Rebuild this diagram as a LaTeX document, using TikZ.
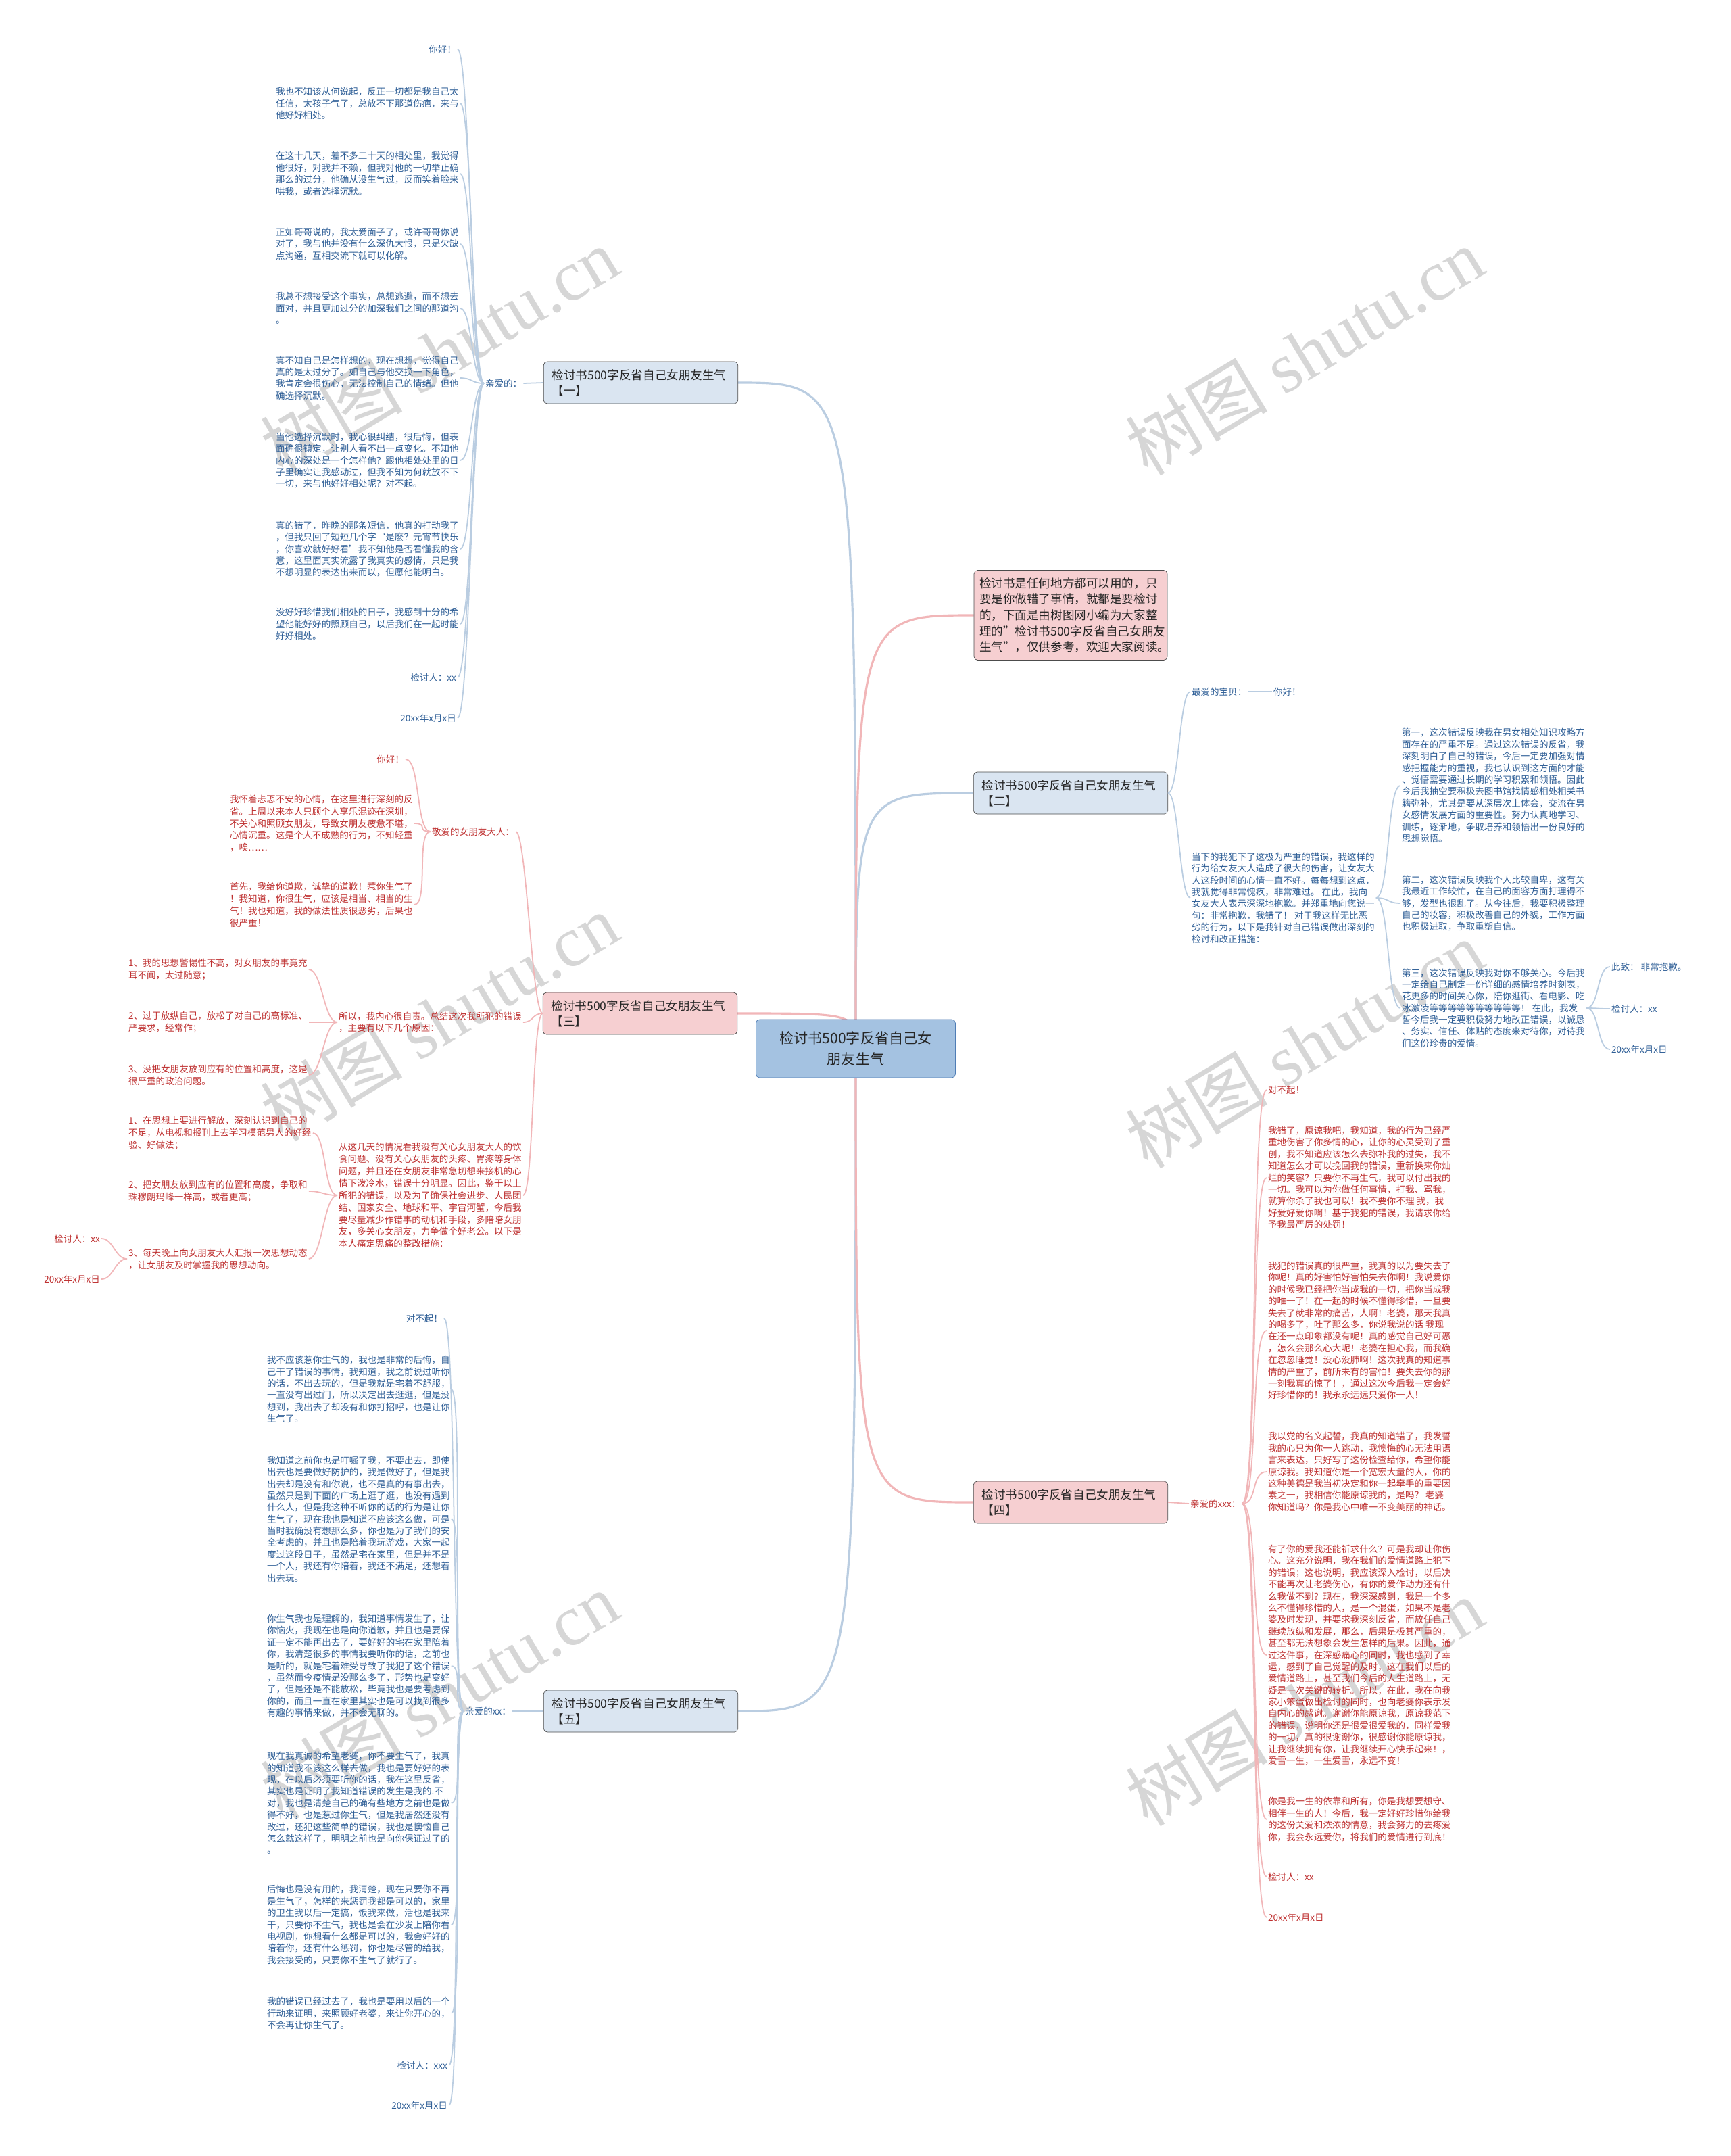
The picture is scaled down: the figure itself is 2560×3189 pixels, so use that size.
\documentclass[tikz,border=0pt]{standalone}
\usepackage{fontspec}
\setmainfont{Noto Sans CJK SC}
\newfontfamily\wmserif{Liberation Serif}
\usepackage{tikz}
\usetikzlibrary{positioning,backgrounds}
\definecolor{txtblue}{HTML}{2E5E96}
\definecolor{txtred}{HTML}{BE3030}
\definecolor{lineblue}{HTML}{BACDE1}
\definecolor{linered}{HTML}{F1B6B8}
\definecolor{fillblue}{HTML}{DAE5F1}
\definecolor{fillred}{HTML}{F6CFD1}
\definecolor{fillroot}{HTML}{A4C2E1}
\definecolor{edgeroot}{HTML}{4F7DB5}

\begin{document}
\begin{tikzpicture}[x=0.02cm,y=-0.02cm,
  root/.style={draw=edgeroot,fill=fillroot,rounded corners=3pt,align=center,
    font=\fontsize{12}{18}\selectfont,text=black!85,minimum width=5.9cm,minimum height=1.72cm},
  bbox/.style={draw=black!70,fill=fillblue,rounded corners=3pt,align=left,
    font=\fontsize{10}{13.3}\selectfont,text=black!85,text width=5.25cm,inner xsep=0.25cm,minimum height=1.24cm},
  rbox/.style={bbox,fill=fillred},
  bp/.style={font=\fontsize{7.7}{9.9}\selectfont,text=txtblue,align=left,inner sep=1pt},
  rp/.style={bp,text=txtred},
  sk3/.style={font=\fontsize{7.7}{10.2}\selectfont},
  lkb/.style={draw=lineblue,line width=1pt},
  lkr/.style={draw=linered,line width=1pt},
  rootb/.style={draw=lineblue,line width=1.8pt},
  rootr/.style={draw=linered,line width=1.8pt},
  wm/.style={text=black!16,rotate=31,font=\fontsize{60}{60}\selectfont}]
\useasboundingbox (0,0) rectangle (2560,3189);

% watermarks
\foreach \wx/\wy in {650/520,1930/520,650/1505,1930/1545,650/2508,1930/2518}
  \node[wm] at (\wx,\wy) {树图 {\wmserif shutu.cn}};

% centre and main branches
\node[root] (root) at (1266,1551) {检讨书500字反省自己女\\朋友生气};
\node[bbox] (b1) at (948,566) {检讨书500字反省自己女朋友生气\\【一】};
\node[bbox] (b2) at (1584,1173) {检讨书500字反省自己女朋友生气\\【二】};
\node[rbox] (b3) at (947,1499) {检讨书500字反省自己女朋友生气\\【三】};
\node[rbox] (b4) at (1584,2222) {检讨书500字反省自己女朋友生气\\【四】};
\node[bbox] (b5) at (948,2531) {检讨书500字反省自己女朋友生气\\【五】};
\node[rbox,text width=5.4cm,inner xsep=0.16cm,font=\fontsize{10}{13.5}\selectfont,minimum height=2.66cm] (intro) at (1584,910)
  {检讨书是任何地方都可以用的，只\\要是你做错了事情，就都是要检讨\\的，下面是由树图网小编为大家整\\理的"检讨书500字反省自己女朋友\\生气"，仅供参考，欢迎大家阅读。};

\begin{scope}[on background layer]
\draw[rootb] (root.center) .. controls (root.center |- b1.east) .. (b1.east);
\draw[rootb] (root.center) .. controls (root.center |- b2.west) .. (b2.west);
\draw[rootb] (root.center) .. controls (root.center |- b5.east) .. (b5.east);
\draw[rootr] (root.center) .. controls (root.center |- intro.west) .. (intro.west);
\draw[rootr] (root.center) .. controls (root.center |- b3.east) .. (b3.east);
\draw[rootr] (root.center) .. controls (root.center |- b4.west) .. (b4.west);
\end{scope}

% branch one
\node[bp,anchor=west] (b1l) at (716,567) {亲爱的：};
\node[bp,anchor=east] (b1c1) at (677,73) {你好！};
\node[bp,anchor=west] (b1c2) at (406,153) {我也不知该从何说起，反正一切都是我自己太\\任信，太孩子气了，总放不下那道伤疤，来与\\他好好相处。};
\node[bp,anchor=west] (b1c3) at (406,257) {在这十几天，差不多二十天的相处里，我觉得\\他很好，对我并不赖，但我对他的一切举止确\\那么的过分，他确从没生气过，反而笑着脸来\\哄我，或者选择沉默。};
\node[bp,anchor=west] (b1c4) at (406,361) {正如哥哥说的，我太爱面子了，或许哥哥你说\\对了，我与他并没有什么深仇大恨，只是欠缺\\点沟通，互相交流下就可以化解。};
\node[bp,anchor=west] (b1c5) at (406,456) {我总不想接受这个事实，总想逃避，而不想去\\面对，并且更加过分的加深我们之间的那道沟\\。};
\node[bp,anchor=west] (b1c6) at (406,559) {真不知自己是怎样想的，现在想想，觉得自己\\真的是太过分了。如自己与他交换一下角色，\\我肯定会很伤心，无法控制自己的情绪。但他\\确选择沉默。};
\node[bp,anchor=west] (b1c7) at (406,681) {当他选择沉默时，我心很纠结，很后悔，但表\\面确很镇定，让别人看不出一点变化。不知他\\内心的深处是一个怎样他？跟他相处处里的日\\子里确实让我感动过，但我不知为何就放不下\\一切，来与他好好相处呢？对不起。};
\node[bp,anchor=west] (b1c8) at (406,812) {真的错了，昨晚的那条短信，他真的打动我了\\，但我只回了短短几个字‘是麽？元宵节快乐\\，你喜欢就好好看’我不知他是否看懂我的含\\意，这里面其实流露了我真实的感情，只是我\\不想明显的表达出来而以，但愿他能明白。};
\node[bp,anchor=west] (b1c9) at (406,923) {没好好珍惜我们相处的日子，我感到十分的希\\望他能好好的照顾自己，以后我们在一起时能\\好好相处。};
\node[bp,anchor=east] (b1c10) at (677,1002) {检讨人：xx};
\node[bp,anchor=east] (b1c11) at (677,1062) {20xx年x月x日};
\draw[lkb] (b1.west) -- (b1l.east);
\foreach \n in {1,...,11}
  \draw[lkb] (b1l.west) .. controls +(-18,0) and +(18,0) .. (b1c\n.east);

% branch two
\node[bp,anchor=west] (b2a) at (1761,1023) {最爱的宝贝：};
\node[bp,anchor=west] (b2a1) at (1882,1023) {你好！};
\node[bp,anchor=west] (b2b) at (1761,1328) {当下的我犯下了这极为严重的错误，我这样的\\行为给女友大人造成了很大的伤害，让女友大\\人这段时间的心情一直不好。每每想到这点，\\我就觉得非常愧疚，非常难过。 在此，我向\\女友大人表示深深地抱歉。并郑重地向您说一\\句：非常抱歉，我错了！ 对于我这样无比恶\\劣的行为，以下是我针对自己错误做出深刻的\\检讨和改正措施：};
\node[bp,anchor=west] (b2b1) at (2072,1162) {第一，这次错误反映我在男女相处知识攻略方\\面存在的严重不足。通过这次错误的反省，我\\深刻明白了自己的错误，今后一定要加强对情\\感把握能力的重视，我也认识到这方面的才能\\、觉悟需要通过长期的学习积累和领悟。因此\\今后我抽空要积极去图书馆找情感相处相关书\\籍弥补，尤其是要从深层次上体会，交流在男\\女感情发展方面的重要性。努力认真地学习、\\训练，逐渐地，争取培养和领悟出一份良好的\\思想觉悟。};
\node[bp,anchor=west] (b2b2) at (2072,1336) {第二，这次错误反映我个人比较自卑，这有关\\我最近工作较忙，在自己的面容方面打理得不\\够，发型也很乱了。从今往后，我要积极整理\\自己的妆容，积极改善自己的外貌，工作方面\\也积极进取，争取重塑自信。};
\node[bp,anchor=west] (b2b3) at (2072,1491) {第三，这次错误反映我对你不够关心。今后我\\一定给自己制定一份详细的感情培养时刻表，\\花更多的时间关心你，陪你逛街、看电影、吃\\冰激凌等等等等等等等等等等！ 在此，我发\\誓今后我一定要积极努力地改正错误，以诚恳\\、务实、信任、体贴的态度来对待你，对待我\\们这份珍贵的爱情。};
\node[bp,anchor=west] (b2c1) at (2382,1430) {此致： 非常抱歉。};
\node[bp,anchor=west] (b2c2) at (2382,1492) {检讨人：xx};
\node[bp,anchor=west] (b2c3) at (2382,1552) {20xx年x月x日};
\foreach \c in {b2a,b2b}
  \draw[lkb] (b2.east) .. controls +(16,0) and +(-16,0) .. (\c.west);
\draw[lkb] (b2a.east) -- (b2a1.west);
\foreach \n in {1,2,3}
  \draw[lkb] (b2b.east) .. controls +(20,0) and +(-20,0) .. (b2b\n.west);
\foreach \n in {1,2,3}
  \draw[lkb] (b2b3.east) .. controls +(20,0) and +(-20,0) .. (b2c\n.west);

% branch three
\node[rp,anchor=east] (b3a) at (763,1230) {敬爱的女朋友大人：};
\node[rp,sk3,anchor=west] (b3b) at (499,1512) {所以，我内心很自责。总结这次我所犯的错误\\，主要有以下几个原因：};
\node[rp,sk3,anchor=west] (b3c) at (499,1768) {从这几天的情况看我没有关心女朋友大人的饮\\食问题、没有关心女朋友的头疼、胃疼等身体\\问题，并且还在女朋友非常急切想来接机的心\\情下泼冷水，错误十分明显。因此，鉴于以上\\所犯的错误，以及为了确保社会进步、人民团\\结、国家安全、地球和平、宇宙河蟹，今后我\\要尽量减少作错事的动机和手段，多陪陪女朋\\友，多关心女朋友，力争做个好老公。以下是\\本人痛定思痛的整改措施：};
\node[rp,anchor=east] (b3a1) at (600,1123) {你好！};
\node[rp,sk3,anchor=west] (b3a2) at (338,1218) {我怀着忐忑不安的心情，在这里进行深刻的反\\省。上周以来本人只顾个人享乐混迹在深圳，\\不关心和照顾女朋友，导致女朋友疲惫不堪，\\心情沉重。这是个人不成熟的行为，不知轻重\\，唉……};
\node[rp,sk3,anchor=west] (b3a3) at (338,1338) {首先，我给你道歉，诚挚的道歉！惹你生气了\\！我知道，你很生气，应该是相当、相当的生\\气！我也知道，我的做法性质很恶劣，后果也\\很严重！};
\node[rp,sk3,anchor=west] (b3b1) at (188,1434) {1、我的思想警惕性不高，对女朋友的事竟充\\耳不闻，太过随意；};
\node[rp,sk3,anchor=west] (b3b2) at (188,1512) {2、过于放纵自己，放松了对自己的高标准、\\严要求，经常作；};
\node[rp,sk3,anchor=west] (b3b3) at (188,1590) {3、没把女朋友放到应有的位置和高度，这是\\很严重的政治问题。};
\node[rp,sk3,anchor=west] (b3c1) at (188,1676) {1、在思想上要进行解放，深刻认识到自己的\\不足，从电视和报刊上去学习模范男人的好经\\验、好做法；};
\node[rp,sk3,anchor=west] (b3c2) at (188,1762) {2、把女朋友放到应有的位置和高度，争取和\\珠穆朗玛峰一样高，或者更高；};
\node[rp,sk3,anchor=west] (b3c3) at (188,1862) {3、每天晚上向女朋友大人汇报一次思想动态\\，让女朋友及时掌握我的思想动向。};
\node[rp,anchor=east] (b3d1) at (150,1832) {检讨人：xx};
\node[rp,anchor=east] (b3d2) at (150,1892) {20xx年x月x日};
\foreach \c in {b3a,b3b,b3c}
  \draw[lkr] (b3.west) .. controls +(-16,0) and +(16,0) .. (\c.east);
\foreach \n in {1,2,3}
  \draw[lkr] (b3a.west) .. controls +(-22,0) and +(22,0) .. (b3a\n.east);
\foreach \n in {1,2,3}
  \draw[lkr] (b3b.west) .. controls +(-20,0) and +(20,0) .. (b3b\n.east);
\foreach \n in {1,2,3}
  \draw[lkr] (b3c.west) .. controls +(-20,0) and +(20,0) .. (b3c\n.east);
\foreach \n in {1,2}
  \draw[lkr] (b3c3.west) .. controls +(-18,0) and +(18,0) .. (b3d\n.east);

% branch four
\node[rp,anchor=west] (b4l) at (1759,2224) {亲爱的xxx：};
\node[rp,anchor=west] (b4c1) at (1874,1612) {对不起！};
\node[rp,anchor=west] (b4c2) at (1874,1742) {我错了，原谅我吧，我知道，我的行为已经严\\重地伤害了你多情的心，让你的心灵受到了重\\创，我不知道应该怎么去弥补我的过失，我不\\知道怎么才可以挽回我的错误，重新换来你灿\\烂的笑容？只要你不再生气，我可以付出我的\\一切。我可以为你做任何事情，打我、骂我，\\就算你杀了我也可以！我不要你不理 我，我\\好爱好爱你啊！基于我犯的错误，我请求你给\\予我最严厉的处罚！};
\node[rp,anchor=west] (b4c3) at (1874,1968) {我犯的错误真的很严重，我真的以为要失去了\\你呢！真的好害怕好害怕失去你啊！我说爱你\\的时候我已经把你当成我的一切，把你当成我\\的唯一了！在一起的时候不懂得珍惜，一旦要\\失去了就非常的痛苦，人啊！老婆，那天我真\\的喝多了，吐了那么多，你说我说的话 我现\\在还一点印象都没有呢！真的感觉自己好可恶\\，怎么会那么心大呢！老婆在担心我，而我确\\在忽忽睡觉！没心没肺啊！这次我真的知道事\\情的严重了，前所未有的害怕！要失去你的那\\一刻我真的惊了！，通过这次今后我一定会好\\好珍惜你的！我永永远远只爱你一人！};
\node[rp,anchor=west] (b4c4) at (1874,2177) {我以党的名义起誓，我真的知道错了，我发誓\\我的心只为你一人跳动，我懊悔的心无法用语\\言来表达，只好写了这份检查给你，希望你能\\原谅我。我知道你是一个宽宏大量的人，你的\\这种美德是我当初决定和你一起牵手的重要因\\素之一，我相信你能原谅我的，是吗？ 老婆\\你知道吗？你是我心中唯一不变美丽的神话。};
\node[rp,anchor=west] (b4c5) at (1874,2448) {有了你的爱我还能祈求什么？可是我却让你伤\\心。这充分说明，我在我们的爱情道路上犯下\\的错误；这也说明，我应该深入检讨，以后决\\不能再次让老婆伤心，有你的爱作动力还有什\\么我做不到？现在，我深深感到，我是一个多\\么不懂得珍惜的人，是一个混蛋，如果不是老\\婆及时发现，并要求我深刻反省，而放任自己\\继续放纵和发展，那么，后果是极其严重的，\\甚至都无法想象会发生怎样的后果。因此，通\\过这件事，在深感痛心的同时，我也感到了幸\\运，感到了自己觉醒的及时，这在我们以后的\\爱情道路上，甚至我们今后的人生道路上，无\\疑是一次关键的转折。所以，在此，我在向我\\家小笨蛋做出检讨的同时，也向老婆你表示发\\自内心的感谢。谢谢你能原谅我，原谅我范下\\的错误，说明你还是很爱很爱我的，同样爱我\\的一切，真的很谢谢你，很感谢你能原谅我，\\让我继续拥有你，让我继续开心快乐起来！，\\爱雪一生，一生爱雪，永远不变！};
\node[rp,anchor=west] (b4c6) at (1874,2691) {你是我一生的依靠和所有，你是我想要想守、\\相伴一生的人！今后，我一定好好珍惜你给我\\的这份关爱和浓浓的情意，我会努力的去疼爱\\你，我会永远爱你，将我们的爱情进行到底！};
\node[rp,anchor=west] (b4c7) at (1874,2776) {检讨人：xx};
\node[rp,anchor=west] (b4c8) at (1874,2836) {20xx年x月x日};
\draw[lkr] (b4.east) -- (b4l.west);
\foreach \n in {1,...,8}
  \draw[lkr] (b4l.east) .. controls +(24,0) and +(-24,0) .. (b4c\n.west);

% branch five
\node[bp,anchor=east] (b5l) at (758,2531) {亲爱的xx：};
\node[bp,anchor=east] (b5c1) at (657,1950) {对不起！};
\node[bp,anchor=west] (b5c2) at (393,2055) {我不应该惹你生气的，我也是非常的后悔，自\\己干了错误的事情，我知道，我之前说过听你\\的话，不出去玩的，但是我就是宅着不舒服，\\一直没有出过门，所以决定出去逛逛，但是没\\想到，我出去了却没有和你打招呼，也是让你\\生气了。};
\node[bp,anchor=west] (b5c3) at (393,2247) {我知道之前你也是叮嘱了我，不要出去，即使\\出去也是要做好防护的，我是做好了，但是我\\出去却是没有和你说，也不是真的有事出去，\\虽然只是到下面的广场上逛了逛，也没有遇到\\什么人，但是我这种不听你的话的行为是让你\\生气了，现在我也是知道不应该这么做，可是\\当时我确没有想那么多，你也是为了我们的安\\全考虑的，并且也是陪着我玩游戏，大家一起\\度过这段日子，虽然是宅在家里，但是并不是\\一个人，我还有你陪着，我还不满足，还想着\\出去玩。};
\node[bp,anchor=west] (b5c4) at (393,2464) {你生气我也是理解的，我知道事情发生了，让\\你恼火，我现在也是向你道歉，并且也是要保\\证一定不能再出去了，要好好的宅在家里陪着\\你，我清楚很多的事情我要听你的话，之前也\\是听的，就是宅着难受导致了我犯了这个错误\\，虽然而今疫情是没那么多了，形势也是变好\\了，但是还是不能放松，毕竟我也是要考虑到\\你的，而且一直在家里其实也是可以找到很多\\有趣的事情来做，并不会无聊的。};
\node[bp,anchor=west] (b5c5) at (393,2667) {现在我真诚的希望老婆，你不要生气了，我真\\的知道我不该这么样去做，我也是要好好的表\\现，在以后必须要听你的话，我在这里反省，\\其实也是证明了我知道错误的发生是我的.不\\对，我也是清楚自己的确有些地方之前也是做\\得不好，也是惹过你生气，但是我居然还没有\\改过，还犯这些简单的错误，我也是懊恼自己\\怎么就这样了，明明之前也是向你保证过了的\\。};
\node[bp,anchor=west] (b5c6) at (393,2847) {后悔也是没有用的，我清楚，现在只要你不再\\是生气了，怎样的来惩罚我都是可以的，家里\\的卫生我以后一定搞，饭我来做，活也是我来\\干，只要你不生气，我也是会在沙发上陪你看\\电视剧，你想看什么都是可以的，我会好好的\\陪着你，还有什么惩罚，你也是尽管的给我，\\我会接受的，只要你不生气了就行了。};
\node[bp,anchor=west] (b5c7) at (393,2978) {我的错误已经过去了，我也是要用以后的一个\\行动来证明，来照顾好老婆，来让你开心的，\\不会再让你生气了。};
\node[bp,anchor=east] (b5c8) at (664,3055) {检讨人：xxx};
\node[bp,anchor=east] (b5c9) at (664,3114) {20xx年x月x日};
\draw[lkb] (b5.west) -- (b5l.east);
\foreach \n in {1,...,9}
  \draw[lkb] (b5l.west) .. controls +(-18,0) and +(18,0) .. (b5c\n.east);
\end{tikzpicture}
\end{document}
